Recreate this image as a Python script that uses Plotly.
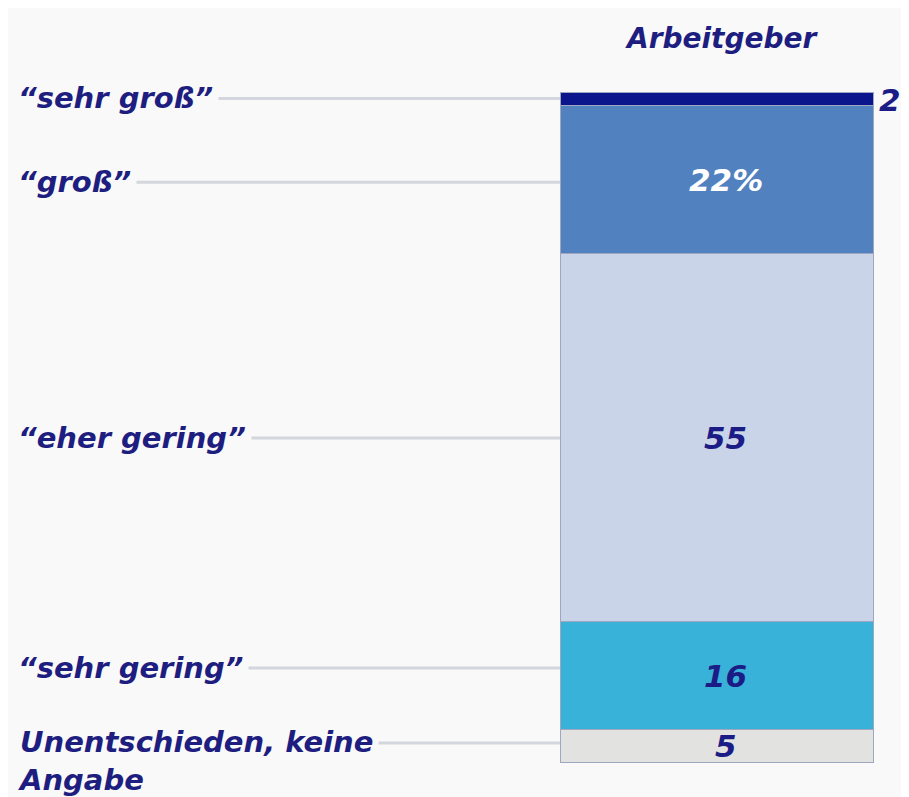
import plotly.graph_objects as go

# Data (stack order bottom -> top)
categories = ["Unentschieden, keine<br>Angabe", "“sehr gering”", "“eher gering”", "“groß”", "“sehr groß”"]
values = [5, 16, 55, 22, 2]
value_labels = ["5", "16", "55", "22%", "2"]
colors = ["#e2e2e0", "#38b2d8", "#c9d4e8", "#5281bf", "#0c168c"]
label_colors = ["#1c1c86", "#1c1c86", "#1c1c86", "#ffffff", "#1c1c86"]
bar_name = "Arbeitgeber"

BG = "#f9f9f9"
NAVY = "#1e1e80"
FONT = "DejaVu Sans"
LABEL_SIZE = 29

bar_x = 717.5
bar_w = 313

fig = go.Figure()
for cat, v, c in zip(categories, values, colors):
    fig.add_trace(go.Bar(
        x=[bar_x], y=[v], width=[bar_w], name=cat,
        marker=dict(color=c, line=dict(color="#9ea6c0", width=1)),
        hoverinfo="skip", showlegend=False,
    ))

annotations = []
shapes = []
cum = 0
label_x_end = bar_x - bar_w / 2
offsets = [0.5, 1.2, 0.0, -0.3, 0.2]
for i, (cat, v) in enumerate(zip(categories, values)):
    mid = cum + v / 2
    cum += v
    ly = mid + offsets[i]
    shapes.append(dict(type="line", xref="x", yref="y", x0=30, x1=label_x_end, y0=ly, y1=ly,
                       line=dict(color="#d4d6de", width=3), layer="below"))
    if i == 0:
        annotations.append(dict(x=12, y=ly, xref="x", yref="y", text="<i><b>" + cat + "</b></i>",
                                showarrow=False, xanchor="left", yanchor="top", yshift=24, align="left",
                                font=dict(family=FONT, size=LABEL_SIZE, color=NAVY), bgcolor=BG, borderpad=5))
    else:
        annotations.append(dict(x=12, y=ly, xref="x", yref="y", text="<i><b>" + cat + "</b></i>",
                                showarrow=False, xanchor="left", yanchor="middle", align="left",
                                font=dict(family=FONT, size=LABEL_SIZE, color=NAVY), bgcolor=BG, borderpad=5))
    if v < 4:
        annotations.append(dict(x=bar_x + bar_w / 2 + 3, y=mid, xref="x", yref="y",
                                text="<i><b>" + value_labels[i] + "</b></i>", showarrow=False,
                                xanchor="left", yanchor="middle",
                                font=dict(family=FONT, size=31, color=label_colors[i])))
    else:
        annotations.append(dict(x=bar_x + 8, y=mid, xref="x", yref="y",
                                text="<i><b>" + value_labels[i] + "</b></i>", showarrow=False,
                                xanchor="center", yanchor="middle",
                                font=dict(family=FONT, size=31, color=label_colors[i])))

annotations.append(dict(x=bar_x + 4, y=108.2, xref="x", yref="y", text="<i><b>" + bar_name + "</b></i>",
                        showarrow=False, xanchor="center", yanchor="middle",
                        font=dict(family=FONT, size=28, color=NAVY)))

fig.update_layout(
    barmode="stack",
    width=901, height=789,
    margin=dict(l=0, r=0, t=0, b=0),
    paper_bgcolor=BG, plot_bgcolor=BG,
    xaxis=dict(range=[8, 909], visible=False, fixedrange=True),
    yaxis=dict(range=[-5.07, 112.69], visible=False, fixedrange=True),
    annotations=annotations, shapes=shapes,
    bargap=0,
)

fig.write_html("out.html")
